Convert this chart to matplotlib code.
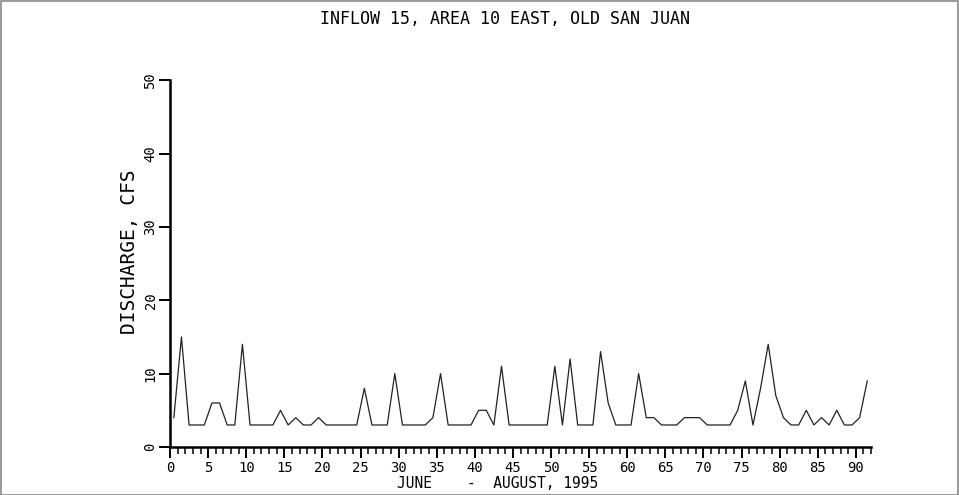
import numpy as np
import matplotlib
matplotlib.use('Agg')
import matplotlib.pyplot as plt
from matplotlib.patches import Rectangle

## data: daily discharge, june - august 1995
day=np.arange(92)
flow=[4,15,3,3,3,6,6,3,3,14,
      3,3,3,3,5,3,4,3,3,4,
      3,3,3,3,3,8,3,3,3,10,
      3,3,3,3,4,10,3,3,3,3,
      5,5,3,11,3,3,3,3,3,3,
      11,3,12,3,3,3,13,6,3,3,
      3,10,4,4,3,3,3,4,4,4,
      3,3,3,3,5,9,3,8,14,7,
      4,3,3,5,3,4,3,5,3,3,
      4,9]
xticks=np.arange(0,91,5)
yticks=np.arange(0,51,10)

plt.rcParams['font.family']='DejaVu Sans Mono'

fig=plt.figure(figsize=(9.59,4.95),dpi=100)
ax=fig.add_axes([0.1773,0.097,0.7310,0.741])

ax.plot(day+0.5,flow,color='#222222',lw=0.9)

ax.set_xlim(0,92)
ax.set_ylim(0,50)
ax.set_xticks(xticks)
ax.set_xticks(np.arange(0,93,1),minor=True)
ax.set_yticks(yticks)
ax.tick_params(axis='x',which='major',length=8,width=1.4,labelsize=10,pad=2)
ax.tick_params(axis='x',which='minor',length=5,width=1.1)
ax.tick_params(axis='y',which='major',length=8,width=1.4,labelsize=10,pad=1)
for lab in ax.get_yticklabels():
    lab.set_rotation(90)
    lab.set_va('center')

ax.spines['top'].set_visible(False)
ax.spines['right'].set_visible(False)
ax.spines['left'].set_linewidth(1.8)
ax.spines['bottom'].set_linewidth(1.8)

fig.text(498/959,1-483/495,'JUNE    -  AUGUST, 1995',fontsize=10.5,ha='center',va='center')
fig.text(130/959,1-252/495,'DISCHARGE, CFS',fontsize=14,rotation=90,ha='center',va='center')
fig.text(0.527,0.962,'INFLOW 15, AREA 10 EAST, OLD SAN JUAN',fontsize=12,ha='center',va='center')

# gray frame around the page
fig.patches.append(Rectangle((0.001,0.0),0.998,0.997,transform=fig.transFigure,
                             fill=False,edgecolor='#888888',lw=1.2))

fig.savefig('out.png',dpi=100)
